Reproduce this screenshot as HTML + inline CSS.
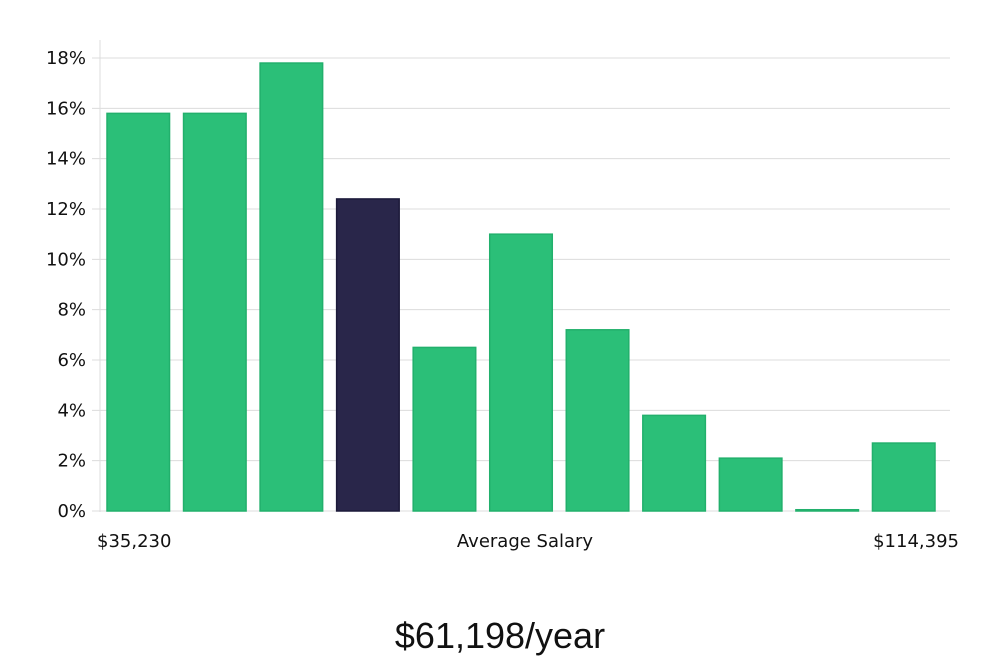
<!DOCTYPE html>
<html><head><meta charset="utf-8"><style>
html,body{margin:0;padding:0;background:#fff;width:1000px;height:660px;overflow:hidden}
svg text{font-family:"DejaVu Sans","Liberation Sans",sans-serif;fill:#111}
</style></head><body>
<svg id="chart" width="1000" height="660" viewBox="0 0 1000 660" xmlns="http://www.w3.org/2000/svg">
<g id="grid"></g>
<g id="yticks"></g>
<g id="bars"></g>
<line x1="100" y1="40" x2="100" y2="512" stroke="#ddd" stroke-width="1"/>
<text x="97" y="547" font-size="18">$35,230</text>
<text x="525" y="547" font-size="18" text-anchor="middle">Average Salary</text>
<text x="959" y="547" font-size="18" text-anchor="end">$114,395</text>
<text x="500" y="648" font-size="36" text-anchor="middle" style="font-family:'Liberation Sans',sans-serif;font-weight:300">$61,198/year</text>
</svg>
<script>
const categories = ["b1","b2","b3","b4","b5","b6","b7","b8","b9","b10","b11"];
const values = [15.8, 15.8, 17.8, 12.4, 6.5, 11.0, 7.2, 3.8, 2.1, 0.05, 2.7];
const highlightIndex = 3;
const yTicks = [0, 2, 4, 6, 8, 10, 12, 14, 16, 18];
const NS = "http://www.w3.org/2000/svg";
const y0 = 511, yTop = 58, yMax = 18;
function yScale(v){ return y0 - (v / yMax) * (y0 - yTop); }
const xLeft = 104, xRight = 946;
function xBand(i){ const step = (xRight - xLeft) / categories.length; return xLeft + i * step + 3; }
const bw = (xRight - xLeft) / categories.length - 14;
const grid = document.getElementById('grid');
const yt = document.getElementById('yticks');
yTicks.forEach(t => {
  const l = document.createElementNS(NS, 'line');
  
  
  l.setAttribute('x1', 92); l.setAttribute('x2', 950);
  l.setAttribute('y1', yScale(t)); l.setAttribute('y2', yScale(t));
  l.setAttribute('stroke', '#dcdcdc'); l.setAttribute('stroke-width', 1);
  grid.appendChild(l);
  const tx = document.createElementNS(NS, 'text');
  
  
  tx.setAttribute('x', 86); tx.setAttribute('y', yScale(t) + 6);
  tx.setAttribute('text-anchor', 'end'); tx.setAttribute('font-size', 18);
  tx.textContent = t + '%';
  yt.appendChild(tx);
});
const bars = document.getElementById('bars');
values.forEach((v, i) => {
  const r = document.createElementNS(NS, 'rect');
  
  
  const top = yScale(v);
  r.setAttribute('x', xBand(i)); r.setAttribute('y', top);
  r.setAttribute('width', bw); r.setAttribute('height', Math.max(1, y0 - top));
  const hi = i === highlightIndex;
  r.setAttribute('fill', hi ? '#29264a' : '#2bbf78');
  r.setAttribute('stroke', hi ? '#1c1a3a' : '#22b06c');
  r.setAttribute('stroke-width', 1.5);
  bars.appendChild(r);
});
</script>
</body></html>
